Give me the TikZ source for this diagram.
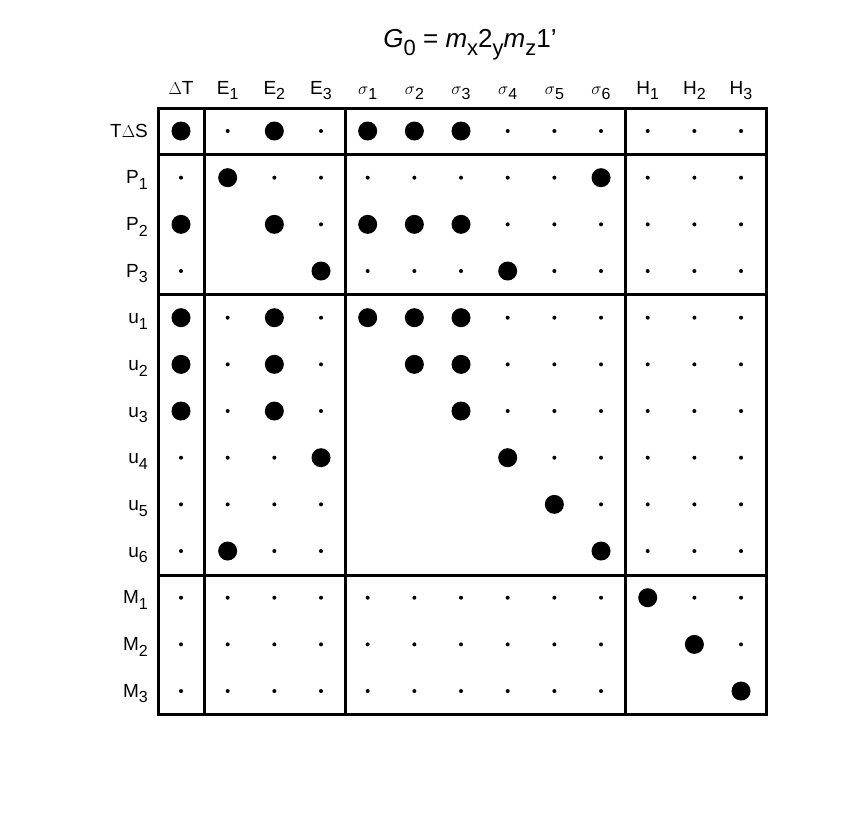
\documentclass[tikz,border=0pt]{standalone}
\usepackage{fontspec}
\setmainfont{Liberation Sans}
\newcommand{\sbx}[1]{\raisebox{-0.3em}{\fontsize{16}{18}\selectfont #1}}
\newcommand{\sbt}[1]{\raisebox{-0.3em}{\fontsize{22}{24}\selectfont #1}}
\begin{document}
\begin{tikzpicture}[x=1pt,y=-1pt,
  big/.style={circle,fill=black,inner sep=0pt,minimum size=19pt},
  sm/.style={circle,fill=black,inner sep=0pt,minimum size=4pt},
  lbl/.style={font=\fontsize{19}{22}\selectfont,inner sep=0pt},
  frame/.style={line width=3pt}]
\useasboundingbox (0,0) rectangle (856,812);
\node[lbl,font=\fontsize{26}{30}\selectfont] (title) at (470,45) {\textit{G}\sbt{0} = \textit{m}\sbt{x}2\sbt{y}\textit{m}\sbt{z}1\char39};
% column labels
\foreach \t [count=\i] in {$\Delta$T,E\sbx{1},E\sbx{2},E\sbx{3},$\sigma$\sbx{1},$\sigma$\sbx{2},$\sigma$\sbx{3},$\sigma$\sbx{4},$\sigma$\sbx{5},$\sigma$\sbx{6},H\sbx{1},H\sbx{2},H\sbx{3}}
  \node[lbl,anchor=base] (c\i) at ({181+(\i-1)*46.67},94) {\t};
\foreach \t [count=\j] in {T$\Delta$S,P\sbx{1},P\sbx{2},P\sbx{3},u\sbx{1},u\sbx{2},u\sbx{3},u\sbx{4},u\sbx{5},u\sbx{6},M\sbx{1},M\sbx{2},M\sbx{3}}
  \node[lbl,anchor=base east] (r\j) at (148,{137+(\j-1)*46.67}) {\t};
% matrix: B big, s small, o empty
\foreach \row [count=\j] in {
 {B,s,B,s,B,B,B,s,s,s,s,s,s},
 {s,B,s,s,s,s,s,s,s,B,s,s,s},
 {B,o,B,s,B,B,B,s,s,s,s,s,s},
 {s,o,o,B,s,s,s,B,s,s,s,s,s},
 {B,s,B,s,B,B,B,s,s,s,s,s,s},
 {B,s,B,s,o,B,B,s,s,s,s,s,s},
 {B,s,B,s,o,o,B,s,s,s,s,s,s},
 {s,s,s,B,o,o,o,B,s,s,s,s,s},
 {s,s,s,s,o,o,o,o,B,s,s,s,s},
 {s,B,s,s,o,o,o,o,o,B,s,s,s},
 {s,s,s,s,s,s,s,s,s,s,B,s,s},
 {s,s,s,s,s,s,s,s,s,s,o,B,s},
 {s,s,s,s,s,s,s,s,s,s,o,o,B}}
 \foreach \v [count=\i] in \row {
   \if\v B \node[big] (d\j-\i) at ({181+(\i-1)*46.67},{131+(\j-1)*46.67}) {};\fi
   \if\v s \node[sm] (d\j-\i) at ({181+(\i-1)*46.67},{131+(\j-1)*46.67}) {};\fi
 };
\draw[frame] (158,108) rectangle (766,714);
\draw[frame] (204,108) -- (204,714);
\draw[frame] (345,108) -- (345,714);
\draw[frame] (625,108) -- (625,714);
\draw[frame] (158,154) -- (766,154);
\draw[frame] (158,294) -- (766,294);
\draw[frame] (158,575) -- (766,575);
\end{tikzpicture}
\end{document}
